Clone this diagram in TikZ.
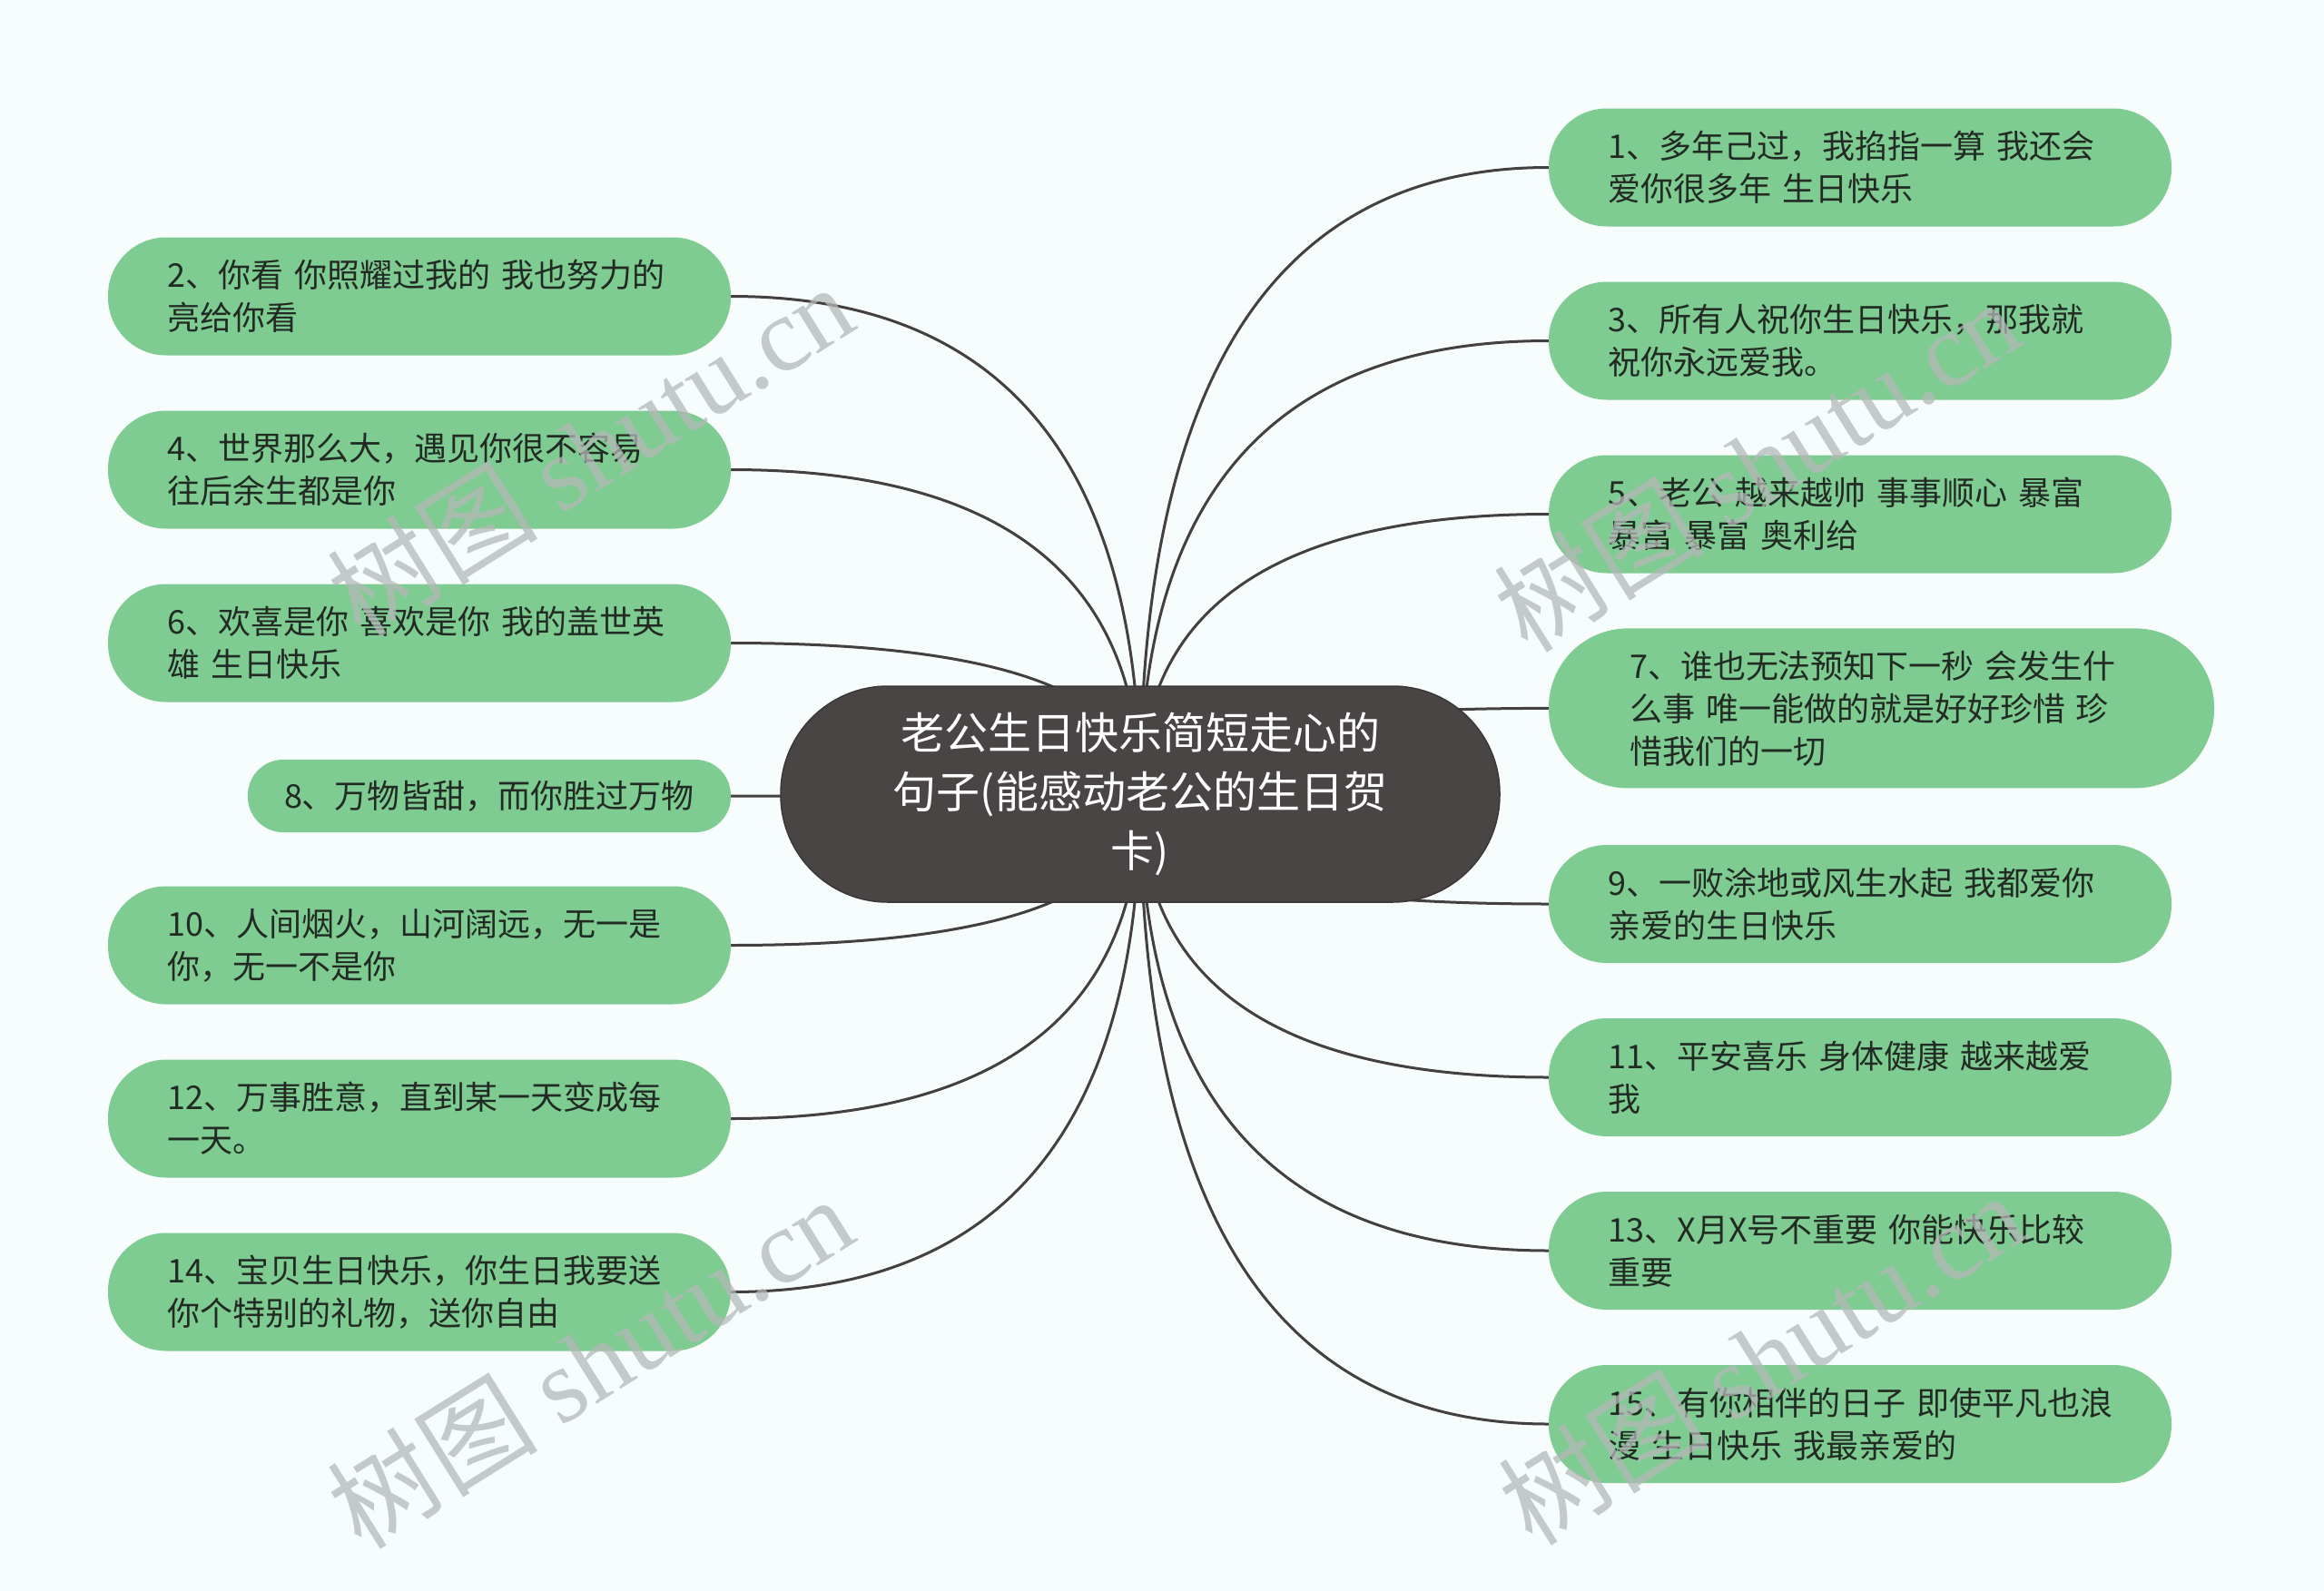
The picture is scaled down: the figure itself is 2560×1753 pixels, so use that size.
\documentclass[tikz,border=0pt]{standalone}
\usepackage{fontspec}
\newfontfamily\cjk{Noto Sans CJK SC}
\newfontfamily\wmserif{Liberation Serif}
\usetikzlibrary{backgrounds,calc}
\definecolor{bgcol}{HTML}{F7FCFC}
\definecolor{leafgreen}{HTML}{7FCC92}
\definecolor{leaftext}{HTML}{222A24}
\definecolor{rootfill}{HTML}{4A4545}
\definecolor{linecol}{HTML}{444040}
\definecolor{wmcol}{HTML}{B4B8B8}
\tikzset{
  leafbase/.style={rectangle, fill=leafgreen, text=leaftext, inner sep=0pt,
    font=\cjk\fontsize{36}{47}\selectfont},
  leaf/.style={leafbase, align=left, text width=555pt, minimum width=686pt,
    minimum height=130pt, rounded corners=64pt},
  leafwide/.style={leafbase, align=left, text width=555pt, minimum width=733pt,
    minimum height=176pt, rounded corners=87pt},
  leafshort/.style={leafbase, minimum width=532pt, minimum height=80pt, rounded corners=39pt},
  rootbox/.style={rectangle, fill=rootfill, draw=rootfill!80!black, line width=1.5pt,
    text=white, align=center, inner sep=0pt, minimum width=792pt, minimum height=238pt,
    rounded corners=118pt, font=\cjk\fontsize{48}{65}\selectfont},
  link/.style={draw=linecol, line width=3pt},
  wm/.style={text=wmcol, opacity=0.75, inner sep=0pt}
}
\begin{document}
\begin{tikzpicture}[x=1pt,y=-1pt]
\useasboundingbox (0,0) rectangle (2560,1753);
% root
\node[rootbox] (c) at (1256,875) {老公生日快乐简短走心的\\句子(能感动老公的生日贺\\卡)};
% left leaves
\node[leaf] (n2) at (462,326.5) {2、你看~你照耀过我的~我也努力的\\亮给你看};
\node[leaf] (n4) at (462,517.5) {4、世界那么大，遇见你很不容易\\往后余生都是你};
\node[leaf] (n6) at (462,708.5) {6、欢喜是你~喜欢是你~我的盖世英\\雄~生日快乐};
\node[leafshort] (n8) at (539,877) {8、万物皆甜，而你胜过万物};
\node[leaf] (n10) at (462,1041.5) {10、人间烟火，山河阔远，无一是\\你，无一不是你};
\node[leaf] (n12) at (462,1232.5) {12、万事胜意，直到某一天变成每\\一天。};
\node[leaf] (n14) at (462,1423.5) {14、宝贝生日快乐，你生日我要送\\你个特别的礼物，送你自由};
% right leaves
\node[leaf] (n1) at (2049,184.5) {1、多年己过，我掐指一算~我还会\\爱你很多年~生日快乐};
\node[leaf] (n3) at (2049,375.5) {3、所有人祝你生日快乐，那我就\\祝你永远爱我。};
\node[leaf] (n5) at (2049,566.5) {5、老公~越来越帅~事事顺心~暴富\\暴富~暴富~奥利给};
\node[leafwide] (n7) at (2072.5,780.4) {7、谁也无法预知下一秒~会发生什\\么事~唯一能做的就是好好珍惜~珍\\惜我们的一切};
\node[leaf] (n9) at (2049,996) {9、一败涂地或风生水起~我都爱你\\亲爱的生日快乐};
\node[leaf] (n11) at (2049,1187) {11、平安喜乐~身体健康~越来越爱\\我};
\node[leaf] (n13) at (2049,1378) {13、X月X号不重要~你能快乐比较\\重要};
\node[leaf] (n15) at (2049,1569) {15、有你相伴的日子~即使平凡也浪\\漫~生日快乐~我最亲爱的};
\begin{pgfonlayer}{background}
\fill[bgcol] (0,0) rectangle (2560,1753);
\foreach \n in {n2,n4,n6,n8,n10,n12,n14}{
  \draw[link] (c.center) .. controls ($(c.center)!2/3!(c.center |- \n.east)$)
     and ($(\n.east)!2/3!(c.center |- \n.east)$) .. (\n.east);
}
\foreach \n in {n1,n3,n5,n7,n9,n11,n13,n15}{
  \draw[link] (c.center) .. controls ($(c.center)!2/3!(c.center |- \n.west)$)
     and ($(\n.west)!2/3!(c.center |- \n.west)$) .. (\n.west);
}
\end{pgfonlayer}
% watermarks
\foreach \p/\q in {650/495, 650/1500, 1935/512, 1940/1496}{
  \node[wm, rotate=32] at (\p,\q) {\cjk\fontsize{116}{120}\selectfont 树图 \wmserif shutu.cn};
}
\end{tikzpicture}
\end{document}
